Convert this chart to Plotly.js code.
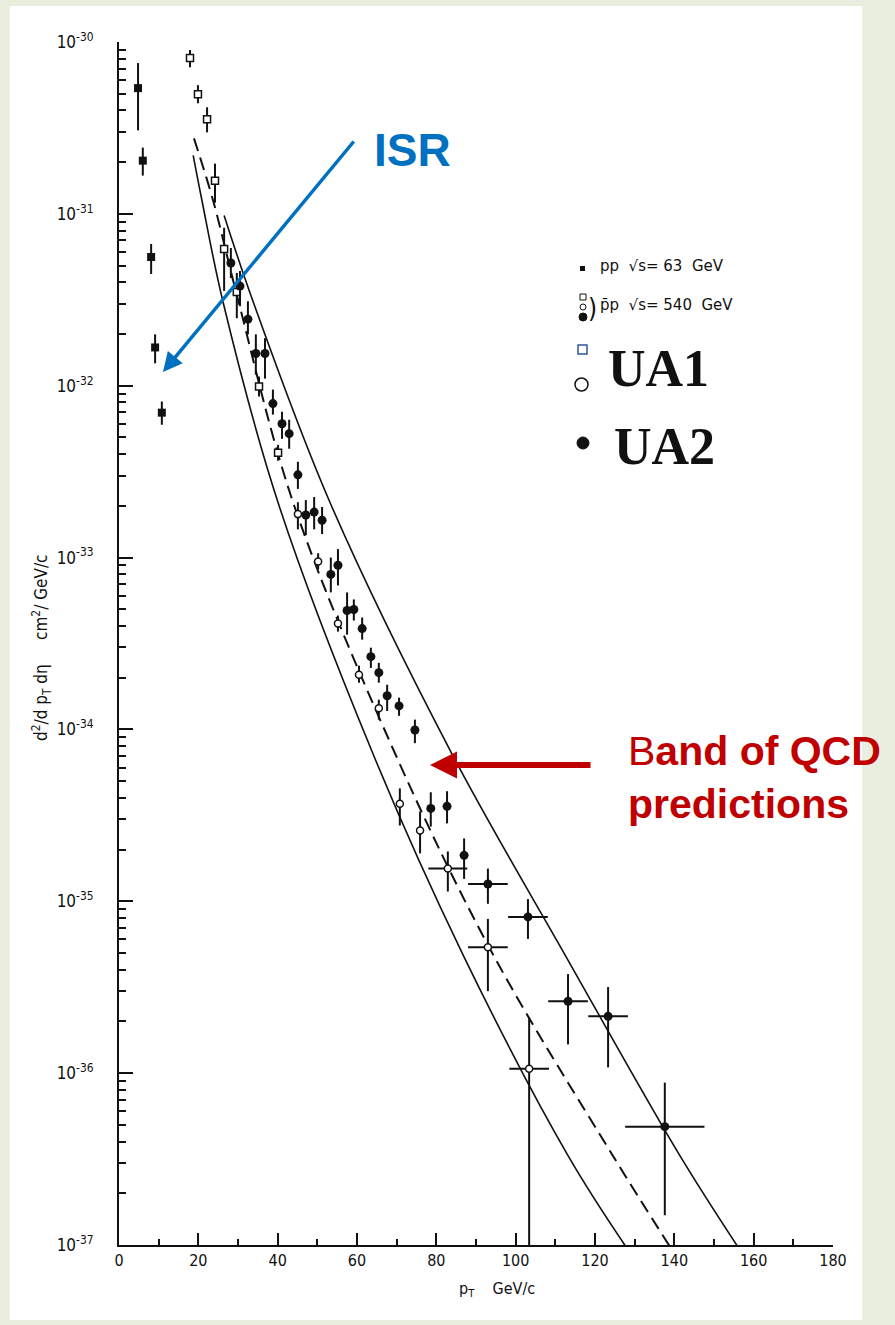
<!DOCTYPE html>
<html>
<head>
<meta charset="utf-8">
<script src="https://cdn.plot.ly/plotly-3.0.1.min.js"></script>
<style>
html,body{margin:0;padding:0;background:#eaeedf;}
#chart{width:895px;height:1325px;}
</style>
</head>
<body>
<div id="chart"></div>
<script>
// ---------- data ----------
// ISR  pp sqrt(s)=63 GeV
const isrX  = [4.8, 6.0, 8.1, 9.1, 10.8];
const isrY  = [5.39e-31, 2.04e-31, 5.61e-32, 1.67e-32, 6.97e-33];
const isrHi = [7.54e-31, 2.43e-31, 6.68e-32, 1.99e-32, 8.09e-33];
const isrLo = [3.06e-31, 1.67e-31, 4.47e-32, 1.35e-32, 5.93e-33];

// UA1 open squares
const ua1SqX  = [17.9, 19.9, 22.2, 24.2, 26.5, 29.7, 35.3, 40.1];
const ua1SqY  = [8.06e-31, 4.97e-31, 3.55e-31, 1.56e-31, 6.25e-32, 3.51e-32, 9.88e-33, 4.07e-33];
const ua1SqHi = [8.98e-31, 5.61e-31, 4.17e-31, 1.96e-31, 8.30e-32, 4.53e-32, 1.13e-32, 4.53e-33];
const ua1SqLo = [7.14e-31, 4.40e-31, 2.98e-31, 1.16e-31, 3.56e-32, 2.47e-32, 8.65e-33, 3.66e-33];

// UA1 open circles
const ua1CiX   = [45.1, 50.2, 55.2, 60.5, 65.5, 70.8, 75.9, 82.9, 93.0, 103.4];
const ua1CiY   = [1.79e-33, 9.5e-34, 4.13e-34, 2.08e-34, 1.33e-34, 3.7e-35, 2.58e-35, 1.55e-35, 5.4e-36, 1.06e-36];
const ua1CiHi  = [2.10e-33, 1.06e-33, 4.60e-34, 2.35e-34, 1.49e-34, 4.54e-35, 3.33e-35, 1.95e-35, 7.90e-36, 2.11e-36];
const ua1CiLo  = [1.46e-33, 8.55e-34, 3.71e-34, 1.87e-34, 1.14e-34, 2.76e-35, 1.90e-35, 1.14e-35, 3.00e-36, 1e-38];
const ua1CiXEr = [0, 0, 0, 0, 0, 0, 0, 4.9, 5, 5];

// UA2 filled circles
const ua2X = [28.2, 30.5, 32.5, 34.5, 36.8, 38.8, 41.1, 42.9, 45.1, 47.1,
              49.2, 51.2, 53.4, 55.2, 57.5, 59.2, 61.3, 63.5, 65.5, 67.6,
              70.6, 74.6, 78.6, 82.7, 87.0, 93.0, 103.1, 113.2, 123.3, 137.6];
const ua2Y = [5.18e-32, 3.80e-32, 2.44e-32, 1.54e-32, 1.54e-32, 7.87e-33, 6.01e-33, 5.26e-33, 3.03e-33, 1.77e-33,
              1.84e-33, 1.65e-33, 7.98e-34, 9.02e-34, 4.92e-34, 4.99e-34, 3.86e-34, 2.65e-34, 2.14e-34, 1.57e-34,
              1.37e-34, 9.92e-35, 3.47e-35, 3.57e-35, 1.85e-35, 1.26e-35, 8.11e-36, 2.62e-36, 2.14e-36, 4.88e-37];
const ua2Hi = [6.33e-32, 4.65e-32, 3.10e-32, 1.99e-32, 1.89e-32, 9.50e-33, 7.06e-33, 6.34e-33, 3.61e-33, 2.16e-33,
               2.25e-33, 1.97e-33, 1.00e-33, 1.12e-33, 6.27e-34, 5.71e-34, 4.48e-34, 2.99e-34, 2.44e-34, 1.82e-34,
               1.53e-34, 1.14e-34, 4.31e-35, 4.37e-35, 2.32e-35, 1.55e-35, 1.03e-35, 3.77e-36, 3.17e-36, 8.81e-37];
const ua2Lo = [4.23e-32, 2.90e-32, 1.99e-32, 1.16e-32, 1.10e-32, 6.79e-33, 4.91e-33, 4.30e-33, 2.51e-33, 1.35e-33,
               1.46e-33, 1.37e-33, 6.27e-34, 6.88e-34, 3.56e-34, 4.30e-34, 3.33e-34, 2.28e-34, 1.87e-34, 1.28e-34,
               1.20e-34, 8.32e-35, 2.72e-35, 2.84e-35, 1.35e-35, 9.67e-36, 6.04e-36, 1.47e-36, 1.08e-36, 1.49e-37];
const ua2XEr = [0,0,0,0,0,0,0,0,0,0, 0,0,0,0,0,0,0,0,0,0, 0,0,0,0,0,5,5,5,5,10];

// QCD band curves
const upX = [26.5, 33.8, 53.2, 83.9, 112.4, 141.4, 156.0];
const upY = [9.77e-32, 3.09e-32, 2.09e-33, 7.24e-35, 4.90e-36, 3.31e-37, 9.77e-38];
const loX = [18.7, 20.9, 26.2, 40.1, 64.0, 86.7, 113.2, 127.8];
const loY = [2.19e-31, 1.20e-31, 3.09e-32, 2.09e-33, 7.24e-35, 4.90e-36, 3.31e-37, 9.77e-38];
const daX = [18.9, 23.7, 29.9, 43.9, 69.6, 94.3, 124.5, 138.9];
const daY = [2.75e-31, 1.20e-31, 3.24e-32, 2.09e-33, 7.24e-35, 4.90e-36, 3.31e-37, 9.77e-38];

// axis ticks
const yTickVals = [1e-30, 1e-31, 1e-32, 1e-33, 1e-34, 1e-35, 1e-36, 1e-37];
const yTickText = ['10<sup>-30</sup>','10<sup>-31</sup>','10<sup>-32</sup>','10<sup>-33</sup>',
                   '10<sup>-34</sup>','10<sup>-35</sup>','10<sup>-36</sup>','10<sup>-37</sup>'];
const xTickVals = [0, 20, 40, 60, 80, 100, 120, 140, 160, 180];

// ---------- helpers ----------
const up = (hi, y) => hi.map((h, i) => h - y[i]);
const dn = (lo, y) => lo.map((l, i) => y[i] - l);
const minorY = [];
for (let e = -37; e < -30; e++) for (let k = 2; k <= 9; k++) minorY.push(k * Math.pow(10, e));

const ebar = (hi, lo, y) => ({type:'data', symmetric:false, array:up(hi,y), arrayminus:dn(lo,y),
                              color:'#111', thickness:2, width:0});
const FONT = '"DejaVu Sans Condensed", "DejaVu Sans", sans-serif';
const FONTW = '"DejaVu Sans", sans-serif';

const traces = [
  {x:upX, y:upY, mode:'lines', line:{color:'#111', width:1.6, shape:'spline', smoothing:1}, hoverinfo:'skip'},
  {x:loX, y:loY, mode:'lines', line:{color:'#111', width:1.6, shape:'spline', smoothing:1}, hoverinfo:'skip'},
  {x:daX, y:daY, mode:'lines', line:{color:'#111', width:2, dash:'13px,7px', shape:'spline', smoothing:1}, hoverinfo:'skip'},
  {x:isrX, y:isrY, mode:'markers', marker:{symbol:'square', size:8, color:'#111'},
   error_y:ebar(isrHi, isrLo, isrY)},
  {x:ua1SqX, y:ua1SqY, mode:'markers',
   marker:{symbol:'square', size:7, color:'#fff', line:{color:'#111', width:1.5}},
   error_y:ebar(ua1SqHi, ua1SqLo, ua1SqY)},
  {x:ua1CiX, y:ua1CiY, mode:'markers',
   marker:{symbol:'circle', size:7, color:'#fff', line:{color:'#111', width:1.5}},
   error_y:ebar(ua1CiHi, ua1CiLo, ua1CiY),
   error_x:{type:'data', array:ua1CiXEr, color:'#111', thickness:2, width:0}},
  {x:ua2X, y:ua2Y, mode:'markers', marker:{symbol:'circle', size:9, color:'#111'},
   error_y:ebar(ua2Hi, ua2Lo, ua2Y),
   error_x:{type:'data', array:ua2XEr, color:'#111', thickness:2, width:0}}
];

// paper coordinate helpers for decoration (plot area: x 119..833, y 42..1245)
const px = v => (v - 119) / 714;
const py = v => (1245 - v) / 1203;
const note = (x, y, text, font, extra) => Object.assign({xref:'paper', yref:'paper', x:px(x), y:py(y),
  xanchor:'center', yanchor:'middle', showarrow:false, text:text, font:font}, extra || {});

const layout = {
  width:895, height:1325,
  margin:{l:119, r:62, t:42, b:80},
  paper_bgcolor:'#eaeedf', plot_bgcolor:'rgba(0,0,0,0)',
  showlegend:false,
  font:{family:FONT, color:'#111', size:15},
  xaxis:{range:[0,180], tickvals:xTickVals, showgrid:false, zeroline:false,
         showline:true, linecolor:'#111', linewidth:2, ticks:'inside', ticklen:12, tickwidth:2, tickcolor:'#111',
         minor:{dtick:10, ticks:'inside', ticklen:6, tickwidth:2, tickcolor:'#111', showgrid:false},
         tickfont:{size:16, family:FONT}, fixedrange:true},
  yaxis:{type:'log', range:[-37,-30], tickvals:yTickVals, ticktext:yTickText, showgrid:false, zeroline:false,
         showline:true, linecolor:'#111', linewidth:2, ticks:'inside', ticklen:14, tickwidth:2, tickcolor:'#111',
         ticklabelstandoff:20,
         minor:{tickvals:minorY, ticks:'inside', ticklen:7, tickwidth:2, tickcolor:'#111', showgrid:false},
         tickfont:{size:17, family:FONT}, fixedrange:true},
  shapes:[
    {type:'rect', xref:'paper', yref:'paper', x0:px(10), x1:px(862), y0:py(1320), y1:py(6),
     fillcolor:'#ffffff', line:{width:0}, layer:'below'},
    // legend markers
    {type:'rect', xref:'paper', yref:'paper', x0:px(580), x1:px(585), y0:py(271), y1:py(266),
     fillcolor:'#111', line:{width:0}},
    {type:'rect', xref:'paper', yref:'paper', x0:px(580), x1:px(586), y0:py(300), y1:py(294),
     fillcolor:'#fff', line:{color:'#111', width:1}},
    {type:'circle', xref:'paper', yref:'paper', x0:px(580), x1:px(586), y0:py(310), y1:py(304),
     fillcolor:'#fff', line:{color:'#111', width:1}},
    {type:'circle', xref:'paper', yref:'paper', x0:px(579), x1:px(587), y0:py(321), y1:py(313),
     fillcolor:'#111', line:{color:'#111', width:1}},
    {type:'rect', xref:'paper', yref:'paper', x0:px(578), x1:px(587), y0:py(354), y1:py(345),
     fillcolor:'rgba(0,0,0,0)', line:{color:'#2f5597', width:1.5}},
    {type:'circle', xref:'paper', yref:'paper', x0:px(575), x1:px(588), y0:py(391), y1:py(378),
     fillcolor:'#fff', line:{color:'#111', width:1.5}},
    {type:'circle', xref:'paper', yref:'paper', x0:px(577), x1:px(589), y0:py(449), y1:py(437),
     fillcolor:'#111', line:{color:'#111', width:1}}
  ],
  annotations:[
    // axis titles
    note(42, 648, 'd<sup>2</sup>/d p<sub>T</sub> dη     cm<sup>2</sup>/ GeV/c', {size:17, family:FONT}, {textangle:-90}),
    note(497, 1289, 'p<sub>T</sub>    GeV/c', {size:16, family:FONT}),
    // legend texts
    note(598, 266, 'pp  √s= 63  GeV', {size:15, family:FONTW}, {xanchor:'left'}),
    note(592, 308, ')', {size:26, family:FONT}),
    note(598, 305, 'p̄p  √s= 540  GeV', {size:15, family:FONTW}, {xanchor:'left'}),
    note(606, 369, '<b>UA1</b>', {size:52, family:'"Liberation Serif", "Times New Roman", serif', color:'#111'}, {xanchor:'left'}),
    note(612, 446, '<b>UA2</b>', {size:52, family:'"Liberation Serif", "Times New Roman", serif', color:'#111'}, {xanchor:'left'}),
    // ISR arrow + label
    {xref:'paper', yref:'paper', x:px(163), y:py(372), ax:192, ay:-232, text:'', showarrow:true,
     arrowhead:2, arrowsize:1.1, arrowwidth:3.5, arrowcolor:'#0070c0'},
    note(412, 150, '<b>ISR</b>', {size:46, family:'"Liberation Sans", Arial, sans-serif', color:'#0070c0'}),
    // QCD band arrow + label
    {xref:'paper', yref:'paper', x:px(430), y:py(765), ax:162, ay:0, text:'', showarrow:true,
     arrowhead:2, arrowsize:0.9, arrowwidth:6, arrowcolor:'#c00000'},
    note(626, 778, 'B<b>and of QCD</b><br><b>predictions</b>',
     {size:41, family:'"Liberation Sans", Arial, sans-serif', color:'#c00000'}, {xanchor:'left', align:'left'})
  ]
};

Plotly.newPlot('chart', traces, layout, {displayModeBar:false, staticPlot:true});
</script>
</body>
</html>
